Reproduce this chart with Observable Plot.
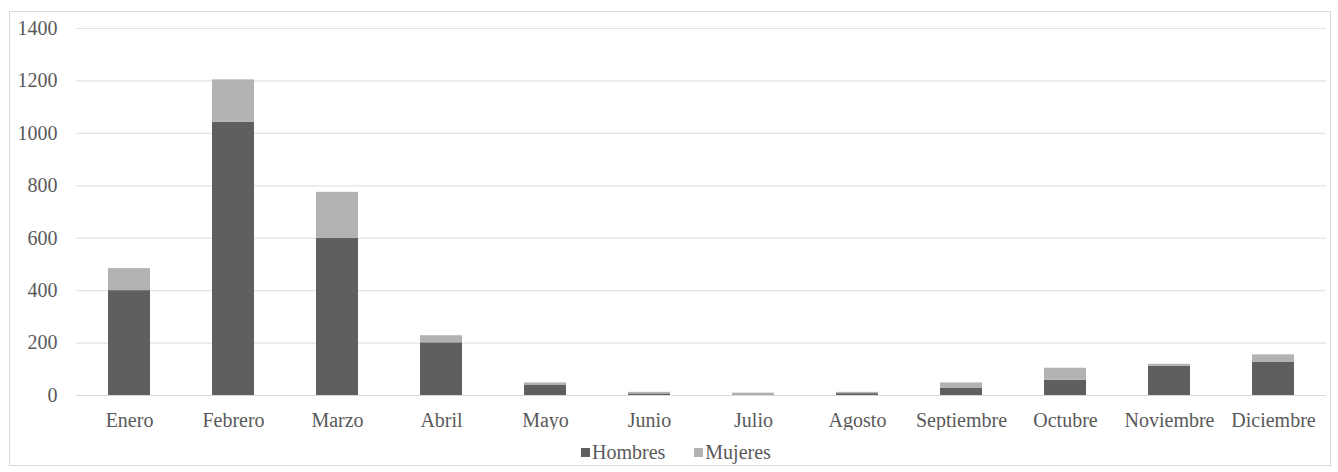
<!DOCTYPE html>
<html>
<head>
<meta charset="utf-8">
<script src="https://cdn.jsdelivr.net/npm/d3@7"></script>
<script src="https://cdn.jsdelivr.net/npm/@observablehq/plot@0.6"></script>
<style>
  html, body { margin: 0; padding: 0; background: #fff; }
  body { width: 1338px; height: 472px; position: relative; overflow: hidden; font-family: "Liberation Serif", "Times New Roman", serif; }
  #frame { position: absolute; left: 9px; top: 11px; width: 1322px; height: 455px; border: 1px solid #d9d9d9; box-sizing: border-box; }
  #chart { position: absolute; left: 0; top: 0; }
  #legend { position: absolute; left: 581px; top: 441px; display: flex; align-items: center; font-size: 20px; color: #595959; white-space: nowrap; }
  #legend .item { display: flex; align-items: center; margin-right: 29px; }
  #legend .sw { width: 9px; height: 9px; margin-right: 2px; display: inline-block; }
</style>
</head>
<body>
<div id="frame"></div>
<div id="chart"></div>
<div id="legend"></div>
<script>
const months = ["Enero", "Febrero", "Marzo", "Abril", "Mayo", "Junio", "Julio", "Agosto", "Septiembre", "Octubre", "Noviembre", "Diciembre"];
const seriesNames = ["Hombres", "Mujeres"];
const hombres = [400, 1042, 600, 201, 40, 6, 2, 7, 27, 58, 111, 126];
const mujeres = [84, 162, 175, 27, 8, 6, 7, 5, 21, 46, 8, 29];
const yTicks = [0, 200, 400, 600, 800, 1000, 1200, 1400];
const colors = ["#5f5f5f", "#b2b2b2"];

const data = [];
months.forEach((m, i) => data.push({month: m, sexo: seriesNames[0], value: hombres[i]}));
months.forEach((m, i) => data.push({month: m, sexo: seriesNames[1], value: mujeres[i]}));

const chart = Plot.plot({
  width: 1338,
  height: 430,
  marginLeft: 76,
  marginRight: 12,
  marginTop: 28,
  marginBottom: 35,
  style: {fontFamily: "'Liberation Serif', 'Times New Roman', serif", fontSize: "20px", color: "#595959", background: "transparent"},
  x: {domain: months, paddingInner: 0.6, paddingOuter: 0.3, label: null, tickSize: 0, tickPadding: 17},
  y: {domain: [0, 1400], ticks: yTicks, label: null, tickSize: 0, tickPadding: 19, tickFormat: d => String(d)},
  color: {domain: seriesNames, range: colors},
  marks: [
    Plot.gridY(yTicks, {stroke: "#e3e3e3", strokeOpacity: 1, strokeWidth: 1.2}),
    Plot.barY(data, {x: "month", y: "value", fill: "sexo", order: seriesNames}),
    Plot.ruleY([0], {stroke: "#d9d9d9", strokeWidth: 1.2})
  ]
});
document.getElementById("chart").appendChild(chart);

const legend = document.getElementById("legend");
seriesNames.forEach((s, i) => {
  const item = document.createElement("span");
  item.className = "item";
  const sw = document.createElement("span");
  sw.className = "sw";
  sw.style.background = colors[i];
  item.appendChild(sw);
  item.appendChild(document.createTextNode(s));
  legend.appendChild(item);
});
</script>
</body>
</html>
